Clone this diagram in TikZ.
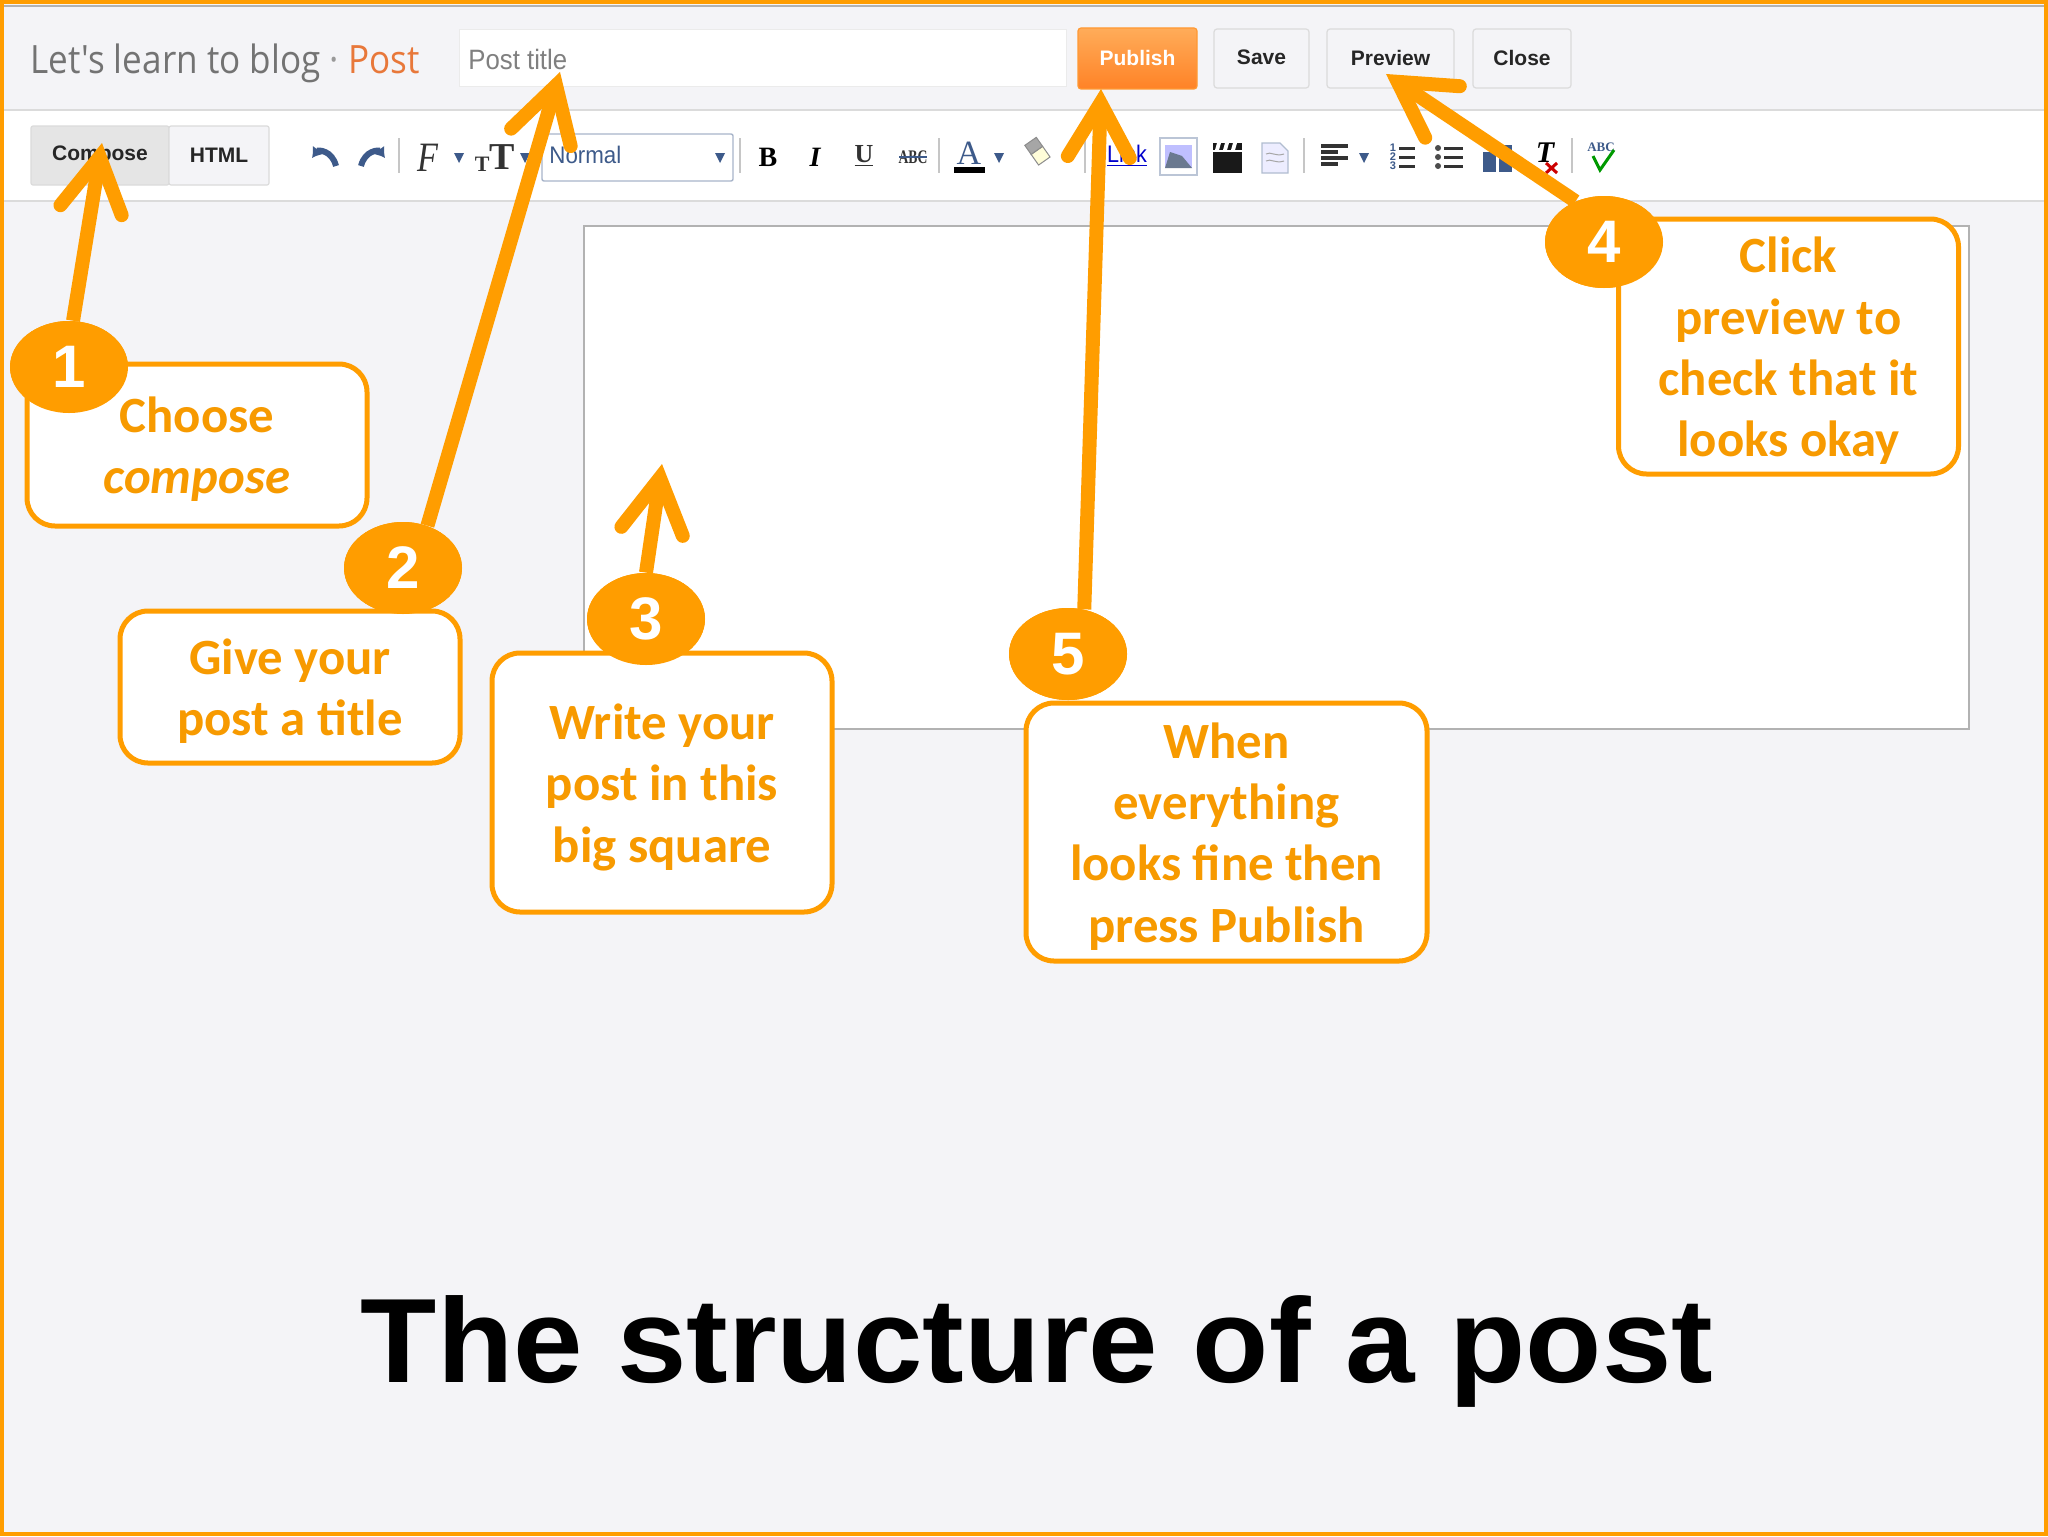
\documentclass[tikz,border=0pt]{standalone}
\usepackage{fontspec}
\usetikzlibrary{arrows.meta,shapes.geometric}
\setmainfont{Carlito}
\newfontfamily\uifont{Liberation Sans}
\newfontfamily\headfont{Open Sans}
\newfontfamily\serifui{Liberation Serif}
\definecolor{org}{HTML}{FF9D00}
\definecolor{txtorg}{HTML}{F79A00}
\definecolor{bgg}{HTML}{F4F4F7}
\definecolor{iconblue}{HTML}{3D5A8A}
\definecolor{postorg}{HTML}{E8783A}
\newcommand{\ddtri}[2]{\fill[iconblue] ({#1-5},{#2-4}) -- ({#1+5},{#2-4}) -- (#1,{#2+6}) -- cycle;}
\newcommand{\sepline}[1]{\draw[gray!45,line width=.6pt] (#1,138) -- (#1,173);}
\tikzset{
  x=0.5pt,y=-0.5pt,
  callout/.style={draw=org,fill=white,line width=2.5pt,rounded corners=14pt,inner sep=0pt},
  calltext/.style={align=center,inner sep=0pt,text=txtorg,font=\fontsize{25.4}{30.6}\selectfont\bfseries},
  badge/.style={ellipse,fill=org,minimum width=59pt,minimum height=46pt,inner sep=0pt,
    text=white,font=\uifont\fontsize{30}{30}\selectfont\bfseries},
  pointer/.style={draw=org,line width=7pt,-{Straight Barb[length=27pt,width=31pt,line cap=round,line join=miter]}},
  hbtn/.style={draw=black!14,fill=bgg,rounded corners=1.5pt,line width=.6pt,inner sep=0pt,minimum height=29.5pt,
    text=black!85,font=\uifont\fontsize{10.5}{12}\selectfont\bfseries},
  tool/.style={inner sep=0pt,text=black!80,font=\uifont\fontsize{10.5}{12}\selectfont},
}
\begin{document}
\begin{tikzpicture}
\useasboundingbox (0,0) rectangle (2048,1536);
% page
\fill[bgg] (0,0) rectangle (2048,1536);
\fill[white] (0,110) rectangle (2048,201);
\draw[black!14,line width=.6pt] (0,110) -- (2048,110);
\draw[black!14,line width=.6pt] (0,201) -- (2048,201);
\draw[black!30,line width=.8pt] (0,6) -- (2048,6);
% header
\node[anchor=base west,inner sep=0pt,font=\headfont\fontsize{19.5}{24}\selectfont,text=black!55] (blogname) at (30,74) {\scalebox{.9}[1]{Let's learn to blog \textcolor{black!40}{·} \textcolor{postorg}{Post}}};
\node[draw=black!8,fill=white,line width=.5pt,minimum width=303.5pt,minimum height=28.5pt,inner sep=0pt] (titlefield) at (762.5,58.5) {};
\node[anchor=west,inner sep=0pt,text=black!50,font=\uifont\fontsize{14}{16}\selectfont] (titletext) at (468,59) {\scalebox{.92}[1]{Post title}};
\node[hbtn,draw=orange!80,top color=orange!65!white,bottom color=orange!85!red!85,minimum width=59.5pt,minimum height=30.5pt,text=white] (publish) at (1137.5,58.5) {\raisebox{1pt}{Publish}};
\node[hbtn,minimum width=47.5pt] (save) at (1261.5,58.5) {\raisebox{1pt}{Save}};
\node[hbtn,minimum width=63.5pt] (preview) at (1390.5,58.5) {\raisebox{1pt}{Preview}};
\node[hbtn,minimum width=49pt] (close) at (1522,58.5) {\raisebox{1pt}{Close}};
% mode tabs
\node[hbtn,fill=black!10,rounded corners=1pt,minimum width=69pt,minimum height=29.5pt] (compose) at (100,155.5) {Compose};
\node[hbtn,fill=bgg,rounded corners=1pt,minimum width=50pt,minimum height=29.5pt] (html) at (219,155.5) {HTML};
% toolbar
\draw[iconblue,line width=3pt,-{Latex[length=5pt,width=7pt]}] (336,166) .. controls (332,150) and (318,150) .. (312,158);
\draw[iconblue,line width=3pt,-{Latex[length=5pt,width=7pt]}] (361,166) .. controls (365,150) and (379,150) .. (385,158);
\sepline{399}
\node[tool,font=\serifui\fontsize{19}{20}\selectfont\itshape] (fonticon) at (428,158) {\scalebox{.9}[1.1]{F}};
\ddtri{459}{157}
\node[tool,font=\serifui\fontsize{19}{20}\selectfont\bfseries] (sizeicon) at (495,158) {\raisebox{-1pt}{\fontsize{11}{12}\selectfont T}T};
\ddtri{525}{157}
\node[draw=iconblue!45,fill=white,line width=.7pt,rounded corners=1pt,minimum width=95.5pt,minimum height=23.5pt,inner sep=0pt] (stylebox) at (637.5,157.5) {};
\node[anchor=west,tool,text=iconblue,font=\uifont\fontsize{12}{14}\selectfont] (styletext) at (549,155) {\scalebox{.93}[1]{Normal}};
\ddtri{720}{157}
\sepline{740}
\node[tool,text=black,font=\serifui\fontsize{14}{14}\selectfont\bfseries] (boldicon) at (768,157) {B};
\node[tool,text=black,font=\serifui\fontsize{14}{14}\selectfont\bfseries\itshape] (italicicon) at (815,157) {I};
\node[tool,font=\serifui\fontsize{13}{14}\selectfont\bfseries] (underlineicon) at (864,156) {\underline{U}};
\node[tool,font=\serifui\fontsize{8}{8}\selectfont\bfseries] (strikeicon) at (913,157) {\scalebox{.85}[1.2]{ABC}};
\draw[iconblue,line width=.6pt] (899,157) -- (927,157);
\sepline{939}
\node[tool,text=iconblue,font=\serifui\fontsize{17}{18}\selectfont] (coloricon) at (969,153) {A};
\fill[black] (954,167) rectangle (985,173);
\ddtri{999}{157}
\begin{scope}[rotate around={35:(1038,152)}]
\draw[black!45,fill=yellow!15,line width=.5pt] (1031,150) rectangle (1045,163);
\draw[black!45,fill=black!35,line width=.5pt] (1031,139) rectangle (1045,150);
\end{scope}
\ddtri{1068}{156}
\sepline{1085}
\node[tool,text=blue!80!black,font=\uifont\fontsize{12}{14}\selectfont] (linkicon) at (1127,156) {\underline{\scalebox{.9}[1]{Link}}};
\draw[iconblue!35,fill=white,line width=.6pt] (1160,138) rectangle (1197,175);
\fill[blue!25] (1165,145) rectangle (1192,168);
\fill[iconblue!70!black!70] (1165,168) -- (1170,152) -- (1182,156) -- (1192,168) -- cycle;
\fill[black!90] (1213,152) rectangle (1242,173);
\fill[black!90] (1213,143) -- (1242,143) -- (1242,150) -- (1213,150) -- cycle;
\foreach \sx in {1217,1225,1233} \fill[white] (\sx,143) -- ({\sx+4},143) -- ({\sx+2},150) -- ({\sx-2},150) -- cycle;
\draw[iconblue!40,fill=blue!7,line width=.6pt] (1262,143) -- (1280,143) -- (1288,151) -- (1288,173) -- (1262,173) -- cycle;
\foreach \yy in {154,161} \draw[gray!70,line width=.5pt] (1266,\yy) .. controls (1271,{\yy-3}) and (1275,{\yy+3}) .. (1284,\yy);
\sepline{1304}
\foreach \yy/\xx in {146/1348,152/1338,158/1348,164/1338} \draw[black!80,line width=1.6pt] (1321,\yy) -- (\xx,\yy);
\ddtri{1364}{157}
\foreach \yy/\nn in {148/1,157/2,166/3}{\draw[black!80,line width=1.5pt] (1399,\yy) -- (1415,\yy);
  \node[tool,text=iconblue,font=\uifont\fontsize{5.5}{6}\selectfont\bfseries] (num\nn) at (1393,\yy) {\nn};
  \draw[black!80,line width=1.5pt] (1444,\yy) -- (1463,\yy);\fill[black!70] (1438,\yy) circle (1.5pt);}
\fill[iconblue] (1483,152) rectangle (1496,172);
\fill[iconblue] (1499,145) rectangle (1512,172);
\node[tool,text=black,font=\serifui\fontsize{15}{16}\selectfont\bfseries\itshape] (cleartext) at (1545,153) {T};
\draw[red!80!black,line width=1.5pt] (1546,163) -- (1557,173) (1557,163) -- (1546,173);
\sepline{1572}
\node[tool,text=iconblue,font=\serifui\fontsize{6.5}{7}\selectfont\bfseries] (spelltext) at (1601,147) {ABC};
\draw[green!60!black,line width=1.5pt] (1593,156) -- (1600,170) -- (1614,150);
% editing area
\node[draw=black!30,fill=white,line width=.6pt,minimum width=692.5pt,minimum height=251.5pt,inner sep=0pt] (editor) at (1276.5,477.5) {};
% anchors of the pointers
\coordinate (tipa) at (102,143);
\coordinate (tipb) at (560,72);
\coordinate (tipc) at (662,464);
\coordinate (tipd) at (1386,74);
\coordinate (tipe) at (1101,89);
% badges
\node[badge] (ba) at (69,367) {};
\node[badge] (bb) at (403,568) {};
\node[badge] (bc) at (646,619) {};
\node[badge] (bd) at (1604,242) {};
\node[badge] (be) at (1068,654) {};
% pointers
\draw[pointer] (ba.85) -- (tipa);
\draw[pointer] (bb.60) -- (tipb);
\draw[pointer] (bc.90) -- (tipc);
\draw[pointer] (bd.125) -- (tipd);
\draw[pointer] (be.70) -- (tipe);
% callouts
\node[callout,minimum width=170pt,minimum height=81pt] (boxa) at (197,445) {};
\node[callout,minimum width=170pt,minimum height=76pt] (boxb) at (290,687) {};
\node[callout,minimum width=170pt,minimum height=129.5pt] (boxc) at (662,782.5) {};
\node[callout,minimum width=170pt,minimum height=127.5pt] (boxd) at (1788.5,346.5) {};
\node[callout,minimum width=200.5pt,minimum height=129pt] (boxe) at (1226.5,832) {};
\node[calltext] (texta) at ([yshift=-2pt]boxa.center) {Choose\\\itshape compose};
\node[calltext] (textb) at ([yshift=-2.2pt]boxb.center) {Give your\\post a title};
\node[calltext] (textc) at ([yshift=-2.4pt]boxc.center) {Write your\\post in this\\big square};
\node[calltext] (textd) at ([yshift=-2.2pt]boxd.center) {Click\\preview to\\check that it\\looks okay};
\node[calltext] (texte) at ([yshift=-2.2pt]boxe.center) {When\\everything\\looks fine then\\press Publish};
% badge fronts
\node[badge] (na) at (69,367) {1};
\node[badge] (nb) at (403,568) {2};
\node[badge] (nc) at (646,619) {3};
\node[badge] (nd) at (1604,242) {4};
\node[badge] (ne) at (1068,654) {5};
% title
\node[inner sep=0pt,anchor=base,font=\uifont\fontsize{60}{70}\selectfont\bfseries,text=black] (headline) at (1037,1382) {\scalebox{1.04}[1]{The structure of a post}};
% frame
\draw[org,line width=2pt] (2,2) rectangle (2046,1534);
\end{tikzpicture}
\end{document}
